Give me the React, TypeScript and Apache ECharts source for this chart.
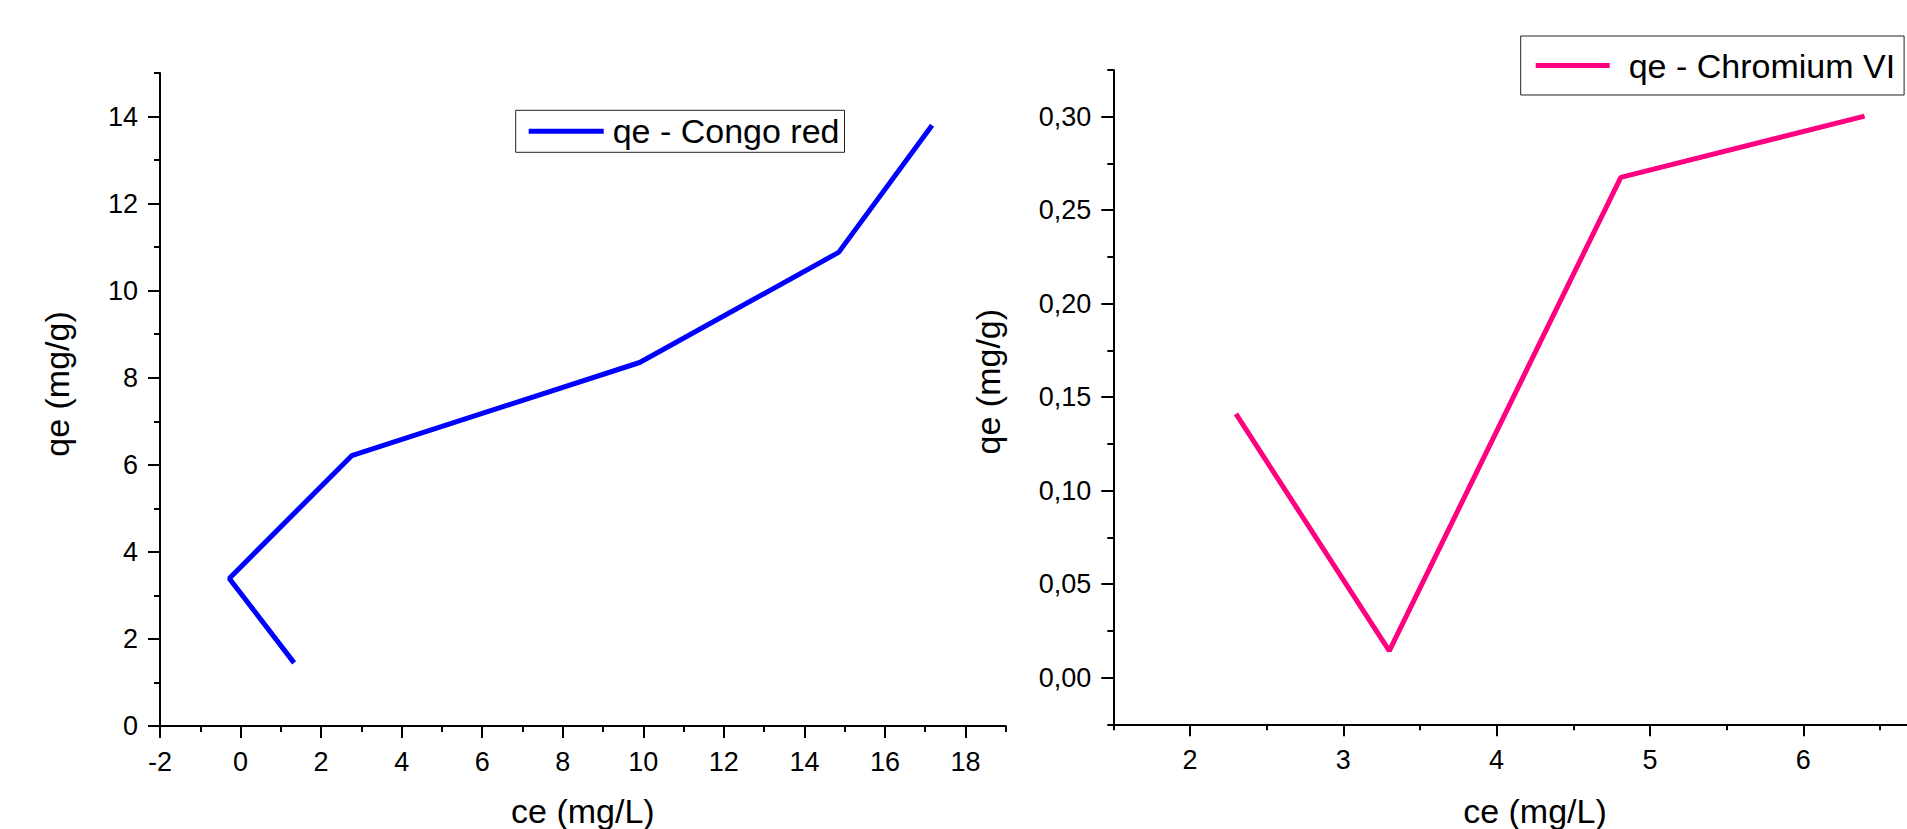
import React, { useEffect, useRef } from "react";
import * as echarts from "echarts";

// Congo red series (ce, qe)
const congoCe = [1.33, -0.28, 2.76, 9.91, 14.85, 17.17];
const congoQe = [1.45, 3.39, 6.21, 8.35, 10.88, 13.8];
// Chromium VI series (ce, qe)
const chromCe = [2.3, 3.3, 4.81, 6.4];
const chromQe = [0.141, 0.0143, 0.2676, 0.3003];

// tick positions
const leftXMajor = [-2, 0, 2, 4, 6, 8, 10, 12, 14, 16, 18];
const leftXMinor = [-1, 1, 3, 5, 7, 9, 11, 13, 15, 17, 19];
const leftYMajor = [0, 2, 4, 6, 8, 10, 12, 14];
const leftYMinor = [1, 3, 5, 7, 9, 11, 13, 15];
const rightXMajor = [2, 3, 4, 5, 6];
const rightXMinor = [1.5, 2.5, 3.5, 4.5, 5.5, 6.5];
const rightYMajor = [0, 0.05, 0.1, 0.15, 0.2, 0.25, 0.3];
const rightYMinor = [-0.025, 0.025, 0.075, 0.125, 0.175, 0.225, 0.275, 0.325];

const seriesNames = ["qe - Congo red", "qe - Chromium VI"];
const FONT = 'Arial, "Liberation Sans", sans-serif';

function mainAxis(o: any) {
  return {
    type: "value",
    gridIndex: o.grid,
    position: o.position,
    min: o.min,
    max: o.max,
    name: o.name,
    nameLocation: "middle",
    nameGap: o.nameGap,
    nameRotate: o.nameRotate,
    nameTextStyle: {
      fontSize: 34,
      fontFamily: FONT,
      color: "#000",
      padding: o.namePadding || 0,
    },
    axisLine: { show: true, onZero: false, lineStyle: { color: "#000", width: 2 } },
    axisTick: {
      show: true,
      customValues: o.major,
      length: 12,
      lineStyle: { color: "#000", width: 2 },
    },
    axisLabel: {
      show: true,
      customValues: o.major,
      margin: 22,
      fontSize: 27,
      fontFamily: FONT,
      color: "#000",
      formatter: o.fmt,
    },
    splitLine: { show: false },
    minorTick: { show: false },
  };
}

function minorAxis(o: any) {
  return {
    type: "value",
    gridIndex: o.grid,
    position: o.position,
    min: o.min,
    max: o.max,
    axisLine: { show: false, onZero: false },
    axisTick: {
      show: true,
      customValues: o.minor,
      length: 6,
      lineStyle: { color: "#000", width: 2 },
    },
    axisLabel: { show: false },
    splitLine: { show: false },
  };
}

export default function App() {
  const ref = useRef<HTMLDivElement>(null);

  useEffect(() => {
    if (!ref.current) return;
    const chart = echarts.init(ref.current, undefined, { renderer: "svg" });
    const intFmt = (v: number) => String(v);
    const commaFmt = (v: number) => v.toFixed(2).replace(".", ",");

    const option: any = {
      animation: false,
      backgroundColor: "#fff",
      grid: [
        { left: 160, top: 73, right: 901.2, bottom: 103, outerBoundsMode: "none" },
        { left: 1113.3, top: 70, width: 843.3, bottom: 104.7, outerBoundsMode: "none" },
      ],
      xAxis: [
        mainAxis({ grid: 0, position: "bottom", min: -2, max: 19, major: leftXMajor, fmt: intFmt, name: "ce (mg/L)", nameGap: 68 }),
        minorAxis({ grid: 0, position: "bottom", min: -2, max: 19, minor: leftXMinor }),
        mainAxis({ grid: 1, position: "bottom", min: 1.5, max: 7, major: rightXMajor, fmt: intFmt, name: "ce (mg/L)", nameGap: 70 }),
        minorAxis({ grid: 1, position: "bottom", min: 1.5, max: 7, minor: rightXMinor }),
      ],
      yAxis: [
        mainAxis({ grid: 0, position: "left", min: 0, max: 15, major: leftYMajor, fmt: intFmt, name: "qe (mg/g)", nameGap: 86, nameRotate: 90, namePadding: [0, 0, 0, 31] }),
        minorAxis({ grid: 0, position: "left", min: 0, max: 15, minor: leftYMinor }),
        mainAxis({ grid: 1, position: "left", min: -0.025, max: 0.325, major: rightYMajor, fmt: commaFmt, name: "qe (mg/g)", nameGap: 108, nameRotate: 90, namePadding: [0, 0, 0, 31] }),
        minorAxis({ grid: 1, position: "left", min: -0.025, max: 0.325, minor: rightYMinor }),
      ],
      legend: [
        {
          data: [seriesNames[0]],
          left: 515.7,
          top: 110.3,
          icon: "rect",
          itemWidth: 75,
          itemHeight: 5,
          padding: [4, 5, 4, 13],
          borderColor: "#222",
          borderWidth: 1,
          backgroundColor: "#fff",
          textStyle: { fontSize: 34, fontFamily: FONT, color: "#000", padding: [0, 0, 0, 4] },
        },
        {
          data: [seriesNames[1]],
          left: 1520.7,
          top: 36,
          icon: "rect",
          itemWidth: 74,
          itemHeight: 5,
          padding: [12.5, 9, 12.5, 15],
          borderColor: "#222",
          borderWidth: 1,
          backgroundColor: "#fff",
          textStyle: { fontSize: 34, fontFamily: FONT, color: "#000", padding: [0, 0, 0, 14] },
        },
      ],
      series: [
        {
          name: seriesNames[0],
          type: "line",
          xAxisIndex: 0,
          yAxisIndex: 0,
          data: congoCe.map((x, i) => [x, congoQe[i]]),
          symbol: "none",
          lineStyle: { color: "#0000ff", width: 5 },
          itemStyle: { color: "#0000ff" },
        },
        {
          name: seriesNames[1],
          type: "line",
          xAxisIndex: 2,
          yAxisIndex: 2,
          data: chromCe.map((x, i) => [x, chromQe[i]]),
          symbol: "none",
          lineStyle: { color: "#ff0080", width: 5 },
          itemStyle: { color: "#ff0080" },
        },
      ],
    };
    chart.setOption(option);
    return () => chart.dispose();
  }, []);

  return (
    <div
      ref={ref}
      style={{ position: "fixed", left: 0, top: 0, width: 1907, height: 829, background: "#fff" }}
    />
  );
}
